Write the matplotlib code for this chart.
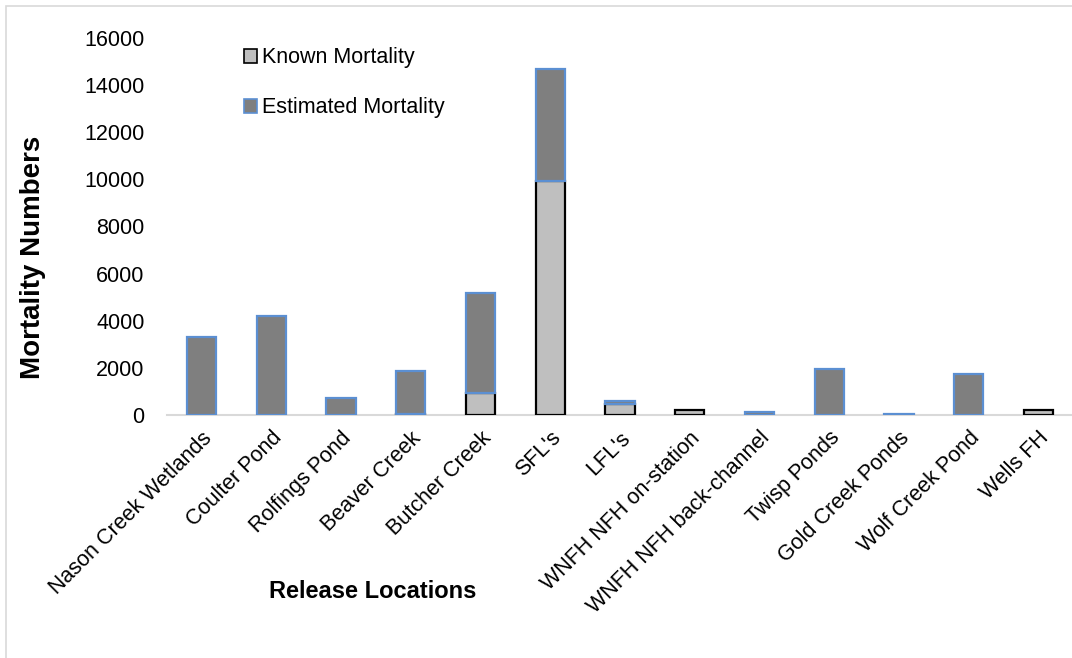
import numpy as np
import matplotlib
matplotlib.use('Agg')
from matplotlib import pyplot as plt
from matplotlib.patches import Rectangle, Patch

plt.rcParams['font.family'] = ['Liberation Sans', 'DejaVu Sans']

locations = ['Nason Creek Wetlands', 'Coulter Pond', 'Rolfings Pond', 'Beaver Creek',
             'Butcher Creek', "SFL's", "LFL's", 'WNFH NFH on-station',
             'WNFH NFH back-channel', 'Twisp Ponds', 'Gold Creek Ponds',
             'Wolf Creek Pond', 'Wells FH']
known = [0, 20, 10, 50, 930, 9950, 470, 200, 0, 0, 0, 0, 200]
estimated = [3300, 4180, 710, 1820, 4250, 4730, 130, 0, 120, 1950, 40, 1740, 0]
yticks = [0, 2000, 4000, 6000, 8000, 10000, 12000, 14000, 16000]

known = np.array(known)
estimated = np.array(estimated)
x = np.arange(len(locations))

fig = plt.figure(figsize=(10.72, 6.58), dpi=100)
ax = fig.add_axes([166.6 / 1072, 243 / 658, 1 - 166.6 / 1072, 377 / 658])

known_col = '#bfbfbf'
est_col = '#7f7f7f'
blue = '#5b8fd2'

ax.bar(x, known, width=0.42, color=known_col, edgecolor='black',
       linewidth=[1.6 if v > 0 else 0 for v in known], zorder=3)
ax.bar(x, estimated, width=0.42, bottom=known, color=est_col, edgecolor=blue,
       linewidth=[1.6 if v > 0 else 0 for v in estimated], zorder=3)

ax.set_xlim(-0.5, 12.48)
ax.set_ylim(0, 16000)
ax.set_yticks(yticks)
ax.tick_params(axis='y', length=0, labelsize=15.5, pad=16)
ax.tick_params(axis='x', length=0, labelsize=15.5, pad=9)
ax.set_xticks(x)
ax.set_xticklabels(locations, rotation=45, ha='right', rotation_mode='anchor')

for s in ['top', 'right', 'left']:
    ax.spines[s].set_visible(False)
ax.spines['bottom'].set_color('#d9d9d9')
ax.spines['bottom'].set_linewidth(1.5)
ax.spines['bottom'].set_zorder(2)

fig.text(33 / 1072, 1 - 257 / 658, 'Mortality Numbers', fontsize=20,
         fontweight='bold', rotation=90, ha='center', va='center')
fig.text(373 / 1072, 1 - 592 / 658, 'Release Locations', fontsize=17,
         fontweight='bold', ha='center', va='center')

handles = [Patch(facecolor=known_col, edgecolor='black', linewidth=1.2, label='Known Mortality'),
           Patch(facecolor=est_col, edgecolor=blue, linewidth=1.2, label='Estimated Mortality')]
ax.legend(handles=handles, loc='upper left', bbox_to_anchor=(225 / 1072, 1 - 28 / 658),
          bbox_transform=fig.transFigure, frameon=False, fontsize=15.5,
          handlelength=0.6, handleheight=0.6, handletextpad=0.2, labelspacing=1.35)

# outer chart frame
fig.patches.append(Rectangle((6 / 1072, -0.1), 1.2, 1.1 - 6 / 658,
                             transform=fig.transFigure, fill=False,
                             edgecolor='#d9d9d9', linewidth=1.2))

fig.savefig('out.png', dpi=100)
